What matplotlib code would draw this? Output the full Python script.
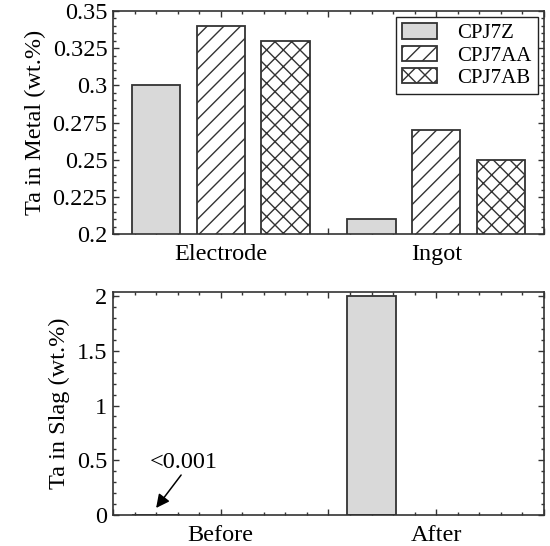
import matplotlib.pyplot as plt
import numpy as np
from matplotlib.ticker import MultipleLocator, FormatStrFormatter

plt.rcParams['font.family'] = ['Liberation Serif', 'DejaVu Serif']
plt.rcParams['hatch.linewidth'] = 1.0

# Ta content in metal (wt.%)
samples = ["CPJ7Z", "CPJ7AA", "CPJ7AB"]
metal_groups = ["Electrode", "Ingot"]
metal_cpj7z = [0.300, 0.210]
metal_cpj7aa = [0.340, 0.270]
metal_cpj7ab = [0.330, 0.250]

# Ta content in slag (wt.%) - only CPJ7Z measured
slag_groups = ["Before", "After"]
slag_cpj7z = [0.0, 2.0]

fills = ["#d9d9d9", "white", "white"]
hatches = [None, "//", "xx"]
edge = "#333333"
fs = 17.5

x = np.array([1.0, 2.0])
offsets = [-0.3, 0.0, 0.3]
width = 0.225

fig = plt.figure(figsize=(5.5, 5.46), dpi=100)
ax1 = fig.add_axes([0.2055, 0.571, 0.7835, 0.409])
ax2 = fig.add_axes([0.2055, 0.0568, 0.7835, 0.409])


def style_axis(ax):
    ax.set_xlim(0.5, 2.5)
    ax.xaxis.set_minor_locator(MultipleLocator(0.1))
    ax.tick_params(which='both', direction='in', top=True, right=True,
                   color=edge, labelsize=fs)
    ax.tick_params(which='major', length=4.5, width=1)
    ax.tick_params(which='minor', length=2.3, width=1)
    ax.tick_params(axis='x', pad=7)
    ax.tick_params(axis='y', pad=4)
    for s in ax.spines.values():
        s.set_linewidth(1.2)
        s.set_color(edge)


# top panel: metal
for vals, off, fc, h, lab in zip([metal_cpj7z, metal_cpj7aa, metal_cpj7ab],
                                 offsets, fills, hatches, samples):
    ax1.bar(x + off, vals, width, bottom=0, color=fc, edgecolor=edge,
            hatch=h, linewidth=1.3, label=lab, zorder=2)

style_axis(ax1)
ax1.set_ylim(0.2, 0.35)
ax1.yaxis.set_major_locator(MultipleLocator(0.025))
ax1.yaxis.set_minor_locator(MultipleLocator(0.005))
ax1.yaxis.set_major_formatter(FormatStrFormatter('%g'))
ax1.set_xticks([0.5, 1.0, 1.5, 2.0, 2.5])
ax1.set_xticklabels(["", metal_groups[0], "", metal_groups[1], ""])
ax1.set_ylabel("Ta in Metal (wt.%)", fontsize=fs, labelpad=5)
leg = ax1.legend(loc='upper right', fontsize=15, fancybox=False,
                 edgecolor='#222222', framealpha=1, handlelength=1.7,
                 handleheight=0.75, handletextpad=0.95, labelspacing=0.12,
                 borderaxespad=0.3, borderpad=0.3)
leg.get_frame().set_linewidth(1.0)

# bottom panel: slag
ax2.bar(x + offsets[0], slag_cpj7z, width, color=fills[0], edgecolor=edge,
        linewidth=1.3, zorder=2)

style_axis(ax2)
ax2.set_ylim(0, 2.04)
ax2.yaxis.set_major_locator(MultipleLocator(0.5))
ax2.yaxis.set_minor_locator(MultipleLocator(0.1))
ax2.yaxis.set_major_formatter(FormatStrFormatter('%g'))
ax2.set_xticks([0.5, 1.0, 1.5, 2.0, 2.5])
ax2.set_xticklabels(["", slag_groups[0], "", slag_groups[1], ""])
ax2.set_ylabel("Ta in Slag (wt.%)", fontsize=fs, labelpad=5)

# "<0.001" note with an arrow down to the (near zero) Before bar
ax2.text(0.83, 0.48, "<0.001", fontsize=fs, ha='center', va='center')
ax2.annotate("", xy=(x[0] + offsets[0], 0.064), xytext=(0.816, 0.365),
             arrowprops=dict(arrowstyle='-|>', color='black', lw=1.1,
                             mutation_scale=20, shrinkA=0, shrinkB=0))

fig.savefig("out.png", dpi=100)
